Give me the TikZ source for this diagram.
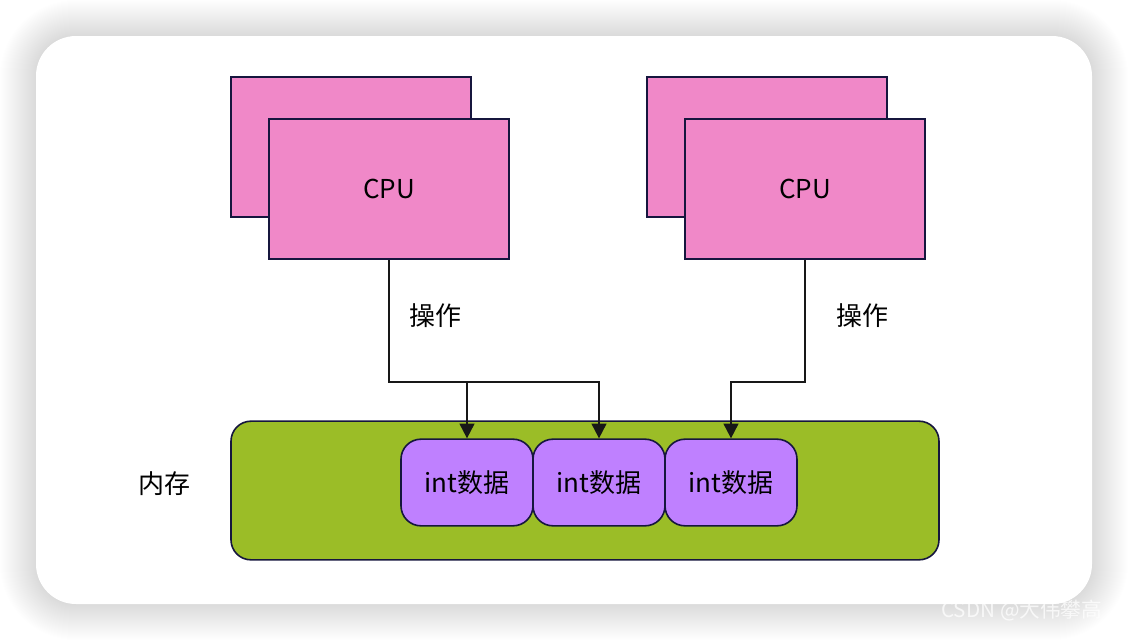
\documentclass[tikz,border=0pt]{standalone}
\usepackage{fontspec}
\setmainfont{Noto Sans CJK SC}
\usetikzlibrary{arrows.meta}
\definecolor{cpupink}{RGB}{240,136,200}
\definecolor{memgreen}{RGB}{155,189,39}
\definecolor{datapurple}{RGB}{191,128,255}
\definecolor{edgenavy}{RGB}{22,22,62}
\definecolor{linedark}{RGB}{24,24,24}
\begin{document}
\begin{tikzpicture}[x=0.75pt,y=-0.75pt,
  cpubox/.style={draw=edgenavy,line width=1.5pt,fill=cpupink,minimum width=180pt,minimum height=105pt,inner sep=0pt,font=\fontsize{19.5}{23}\selectfont},
  databox/.style={draw=edgenavy,line width=1.2pt,fill=datapurple,rounded corners=15pt,minimum width=99pt,minimum height=65pt,inner sep=0pt,font=\fontsize{19.5}{23}\selectfont},
  memstyle/.style={draw=edgenavy,line width=1.2pt,fill=memgreen,rounded corners=15pt,minimum width=531pt,minimum height=104pt,inner sep=0pt},
  lbl/.style={font=\fontsize{19.5}{23}\selectfont,text=black},
  arr/.style={draw=linedark,line width=1.5pt,-{Triangle[width=11pt,length=11pt]}},
  conn/.style={draw=linedark,line width=1.5pt}]
\useasboundingbox (0,0) rectangle (1128,640);
\fill[white] (0,0) rectangle (1128,640);
% shadow
\foreach \i in {1,...,36}{
  \pgfmathsetmacro\r{30+\i*0.75}
  \fill[black,opacity=0.0045,rounded corners=\r pt] (36-\i,36-\i) rectangle (1092+\i,604+\i);
}
\fill[white,rounded corners=30pt] (36,36) rectangle (1092,604);
% watermark
\node[text=white,opacity=0.75,font=\fontsize{15.5}{18}\selectfont,anchor=west,inner sep=0pt] (wm) at (941,611) {CSDN @大伟攀高};
% CPUs
\node[cpubox] (cpu1b) at (351,147) {};
\node[cpubox] (cpu1) at (389,189) {CPU};
\node[cpubox] (cpu2b) at (767,147) {};
\node[cpubox] (cpu2) at (805,189) {CPU};
% memory
\node[memstyle] (mem) at (585,490.5) {};
\node[lbl] (memlbl) at (164,484) {内存};
\node[databox] (d1) at (467,482.5) {int数据};
\node[databox] (d2) at (599,482.5) {int数据};
\node[databox] (d3) at (731,482.5) {int数据};
% connectors
\coordinate (j) at (0,382);
\draw[arr] (cpu1.south) |- (d2.north |- j) -- (d2.north);
\draw[arr] (d1.north |- j) -- (d1.north);
\draw[arr] (cpu2.south) |- (d3.north |- j) -- (d3.north);
\node[lbl] (op1) at (435,316) {操作};
\node[lbl] (op2) at (862,316) {操作};
\end{tikzpicture}
\end{document}
